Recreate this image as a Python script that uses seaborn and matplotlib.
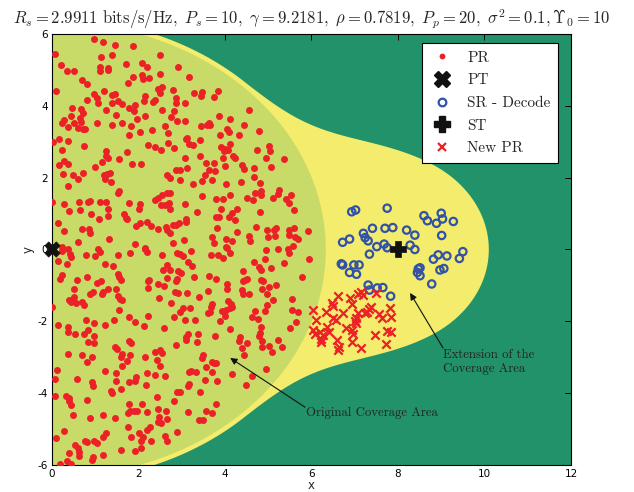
import numpy as np
import pandas as pd
import matplotlib
matplotlib.use("Agg")
import matplotlib.pyplot as plt
import seaborn as sns
from matplotlib.lines import Line2D

sns.set_style("white")
plt.rcParams['font.family'] = ['DejaVu Sans']
plt.rcParams['mathtext.fontset'] = 'cm'
plt.rcParams['axes.unicode_minus'] = False

# ---------------- data ----------------
pr_points = [
(0.97,5.85),(1.17,5.77),(1.45,5.69),(1.88,5.66),(0.08,5.44),(1.13,5.35),(1.39,5.41),(2.50,5.42),(0.20,5.15),(1.11,5.09),(1.29,5.04),(1.12,4.97),(1.29,4.99),(1.71,5.16),(2.08,5.19),(2.20,5.07),(2.92,5.07),(0.35,4.96),(0.50,4.98),(2.49,4.89),(1.88,4.79),(2.08,4.86),(2.11,4.76),(2.25,4.77),(0.70,4.71),(0.81,4.61),(1.76,4.63),(0.10,4.42),(1.20,4.40),(0.96,4.33),(1.39,4.29),(1.46,4.32),(2.46,4.46),(2.55,4.52),(2.49,4.35),(2.79,4.44),(1.04,4.21),(1.06,4.09),(0.81,4.16),(1.39,4.09),(1.53,4.14),(1.61,4.04),(2.14,4.26),(2.12,4.14),(2.39,4.16),(2.34,4.10),(1.93,4.03),(1.79,3.95),(1.89,3.86),(2.87,4.23),(2.87,4.07),(0.46,3.94),(0.68,3.90),(1.24,3.89),(2.55,3.89),(2.82,3.86),(0.71,3.79),(0.28,3.61),(0.43,3.72),(0.65,3.65),(0.68,3.56),(1.49,3.74),(2.16,3.72),(1.96,3.64),(2.76,3.68),(2.88,3.59),(0.24,3.53),(0.36,3.41),(0.52,3.51),(1.04,3.51),(1.39,3.47),(1.63,3.51),(1.83,3.44),(0.59,3.39),(0.71,3.35),(0.77,3.36),(2.04,3.28),(2.32,3.32),(2.61,3.44),(2.69,3.25),(1.79,3.18),(0.17,3.09),(0.37,3.03),(0.03,2.99),(0.73,2.89),(2.21,2.90),(2.39,2.85),(2.51,2.78),(2.69,2.96),(2.81,2.82),(0.23,2.77),(1.24,2.75),(1.26,2.59),(1.29,2.54),(1.54,2.53),(1.74,2.72),(0.27,2.47),(0.36,2.39),(0.17,2.34),(1.15,2.43),(0.99,2.29),(1.84,2.39),(2.06,2.37),(0.26,2.10),(0.49,2.07),(0.71,2.12),(1.34,2.12),(1.27,2.10),(1.20,2.08),(1.23,1.96),(1.36,1.89),(0.61,1.95),(2.66,2.08),(2.73,1.98),(2.86,2.21),(2.97,2.20),(0.36,1.78),(1.55,1.62),(1.53,1.56),(2.45,1.43),(2.38,1.38),(2.55,1.52),(2.66,1.57),(2.74,1.56),(0.00,1.31),(0.28,1.28),(0.63,1.33),(0.84,1.31),(0.89,1.35),(1.12,1.32),(1.26,1.31),(1.79,1.30),(2.03,1.27),(2.02,1.13),(2.51,1.24),(2.61,1.23),(2.71,1.30),(2.72,1.13),(0.40,1.07),(0.65,1.10),(1.29,1.13),(0.91,0.99),(1.29,0.92),(1.66,0.99),(1.71,0.89),(1.73,0.84),(1.09,0.86),(0.15,0.74),(2.04,0.75),(1.94,0.65),(2.20,0.76),(2.29,0.65),(2.46,0.56),(2.63,0.64),(2.65,0.53),(2.73,0.45),(2.79,0.69),(2.87,0.68),(2.93,0.75),(0.28,0.51),(0.69,0.56),(0.86,0.58),(0.87,0.45),(1.31,0.30),(0.60,0.20),(1.92,0.16),(2.14,0.05),(2.79,0.17),(0.23,0.06),
(3.17,4.79),(3.29,4.36),(3.48,4.39),(3.45,4.27),(3.85,4.40),(3.74,4.24),(3.07,4.09),(4.56,3.89),(3.86,3.72),(4.11,3.64),(3.08,3.59),(3.44,3.45),(3.62,3.51),(3.66,3.47),(3.58,3.48),(4.45,3.47),(4.05,3.35),(4.09,3.26),(3.88,3.20),(4.32,3.20),(4.78,3.29),(3.09,3.07),(3.12,3.11),(3.17,2.93),(3.27,2.91),(3.42,3.04),(3.91,2.85),(4.11,2.94),(4.01,2.79),(3.97,2.75),(4.08,2.77),(4.19,2.60),(4.23,2.55),(4.75,2.76),(5.01,2.89),(5.03,2.75),(3.95,2.54),(4.94,2.55),(5.37,2.53),(3.08,2.56),(3.43,2.61),(3.56,2.40),(3.75,2.42),(4.00,2.33),(4.40,2.35),(4.43,2.23),(4.68,2.27),(5.06,2.29),(3.12,2.26),(3.62,2.21),(3.77,2.18),(3.53,2.07),(4.68,2.02),(4.82,1.85),(5.25,1.67),(2.95,1.94),(3.26,1.83),(3.46,1.91),(3.71,1.93),(4.02,1.82),(4.37,1.88),(4.70,1.56),(4.84,1.62),(4.84,1.53),(5.22,1.54),(5.52,1.53),(5.42,1.40),(5.48,1.29),(5.60,1.10),(3.48,1.49),(3.79,1.41),(3.95,1.41),(4.12,1.51),(4.51,1.42),(4.64,1.38),(5.11,1.42),(3.08,1.27),(3.35,1.05),(3.91,1.13),(4.81,1.03),(4.17,1.01),(4.09,0.91),(4.28,1.12),(3.80,0.90),(3.86,0.90),(4.22,0.82),(3.10,0.86),(3.10,0.76),(3.81,0.59),(4.71,0.63),(4.97,0.55),(5.13,0.54),(5.19,0.60),(5.47,0.55),(5.60,0.60),(5.91,0.52),(4.28,0.49),(4.55,0.38),(4.58,0.24),(4.99,0.36),(5.15,0.37),(5.49,0.41),(5.62,0.35),(5.68,0.30),(3.71,0.36),(3.75,0.17),(4.03,0.29),(4.17,0.25),(3.06,0.26),(4.03,0.06),(5.58,0.11),
(0.24,-0.03),(0.36,0.00),(0.41,-0.13),(0.43,-0.22),(0.13,-0.31),(0.34,-0.39),(0.78,-0.16),(0.99,-0.17),(1.07,0.00),(1.12,-0.08),(1.53,-0.14),(1.81,-0.09),(2.14,0.00),(2.20,-0.08),(2.54,-0.16),(2.90,-0.09),(2.96,-0.13),(1.23,-0.39),(1.41,-0.47),(2.67,-0.42),(2.56,-0.58),(2.73,-0.57),(2.91,-0.61),(1.53,-0.67),(1.54,-0.77),(1.59,-0.86),(0.22,-0.70),(0.19,-0.82),(0.57,-0.86),(0.80,-0.76),(1.03,-0.93),(1.13,-0.89),(2.21,-0.89),(2.24,-0.86),(2.23,-1.08),(2.46,-0.95),(2.59,-1.03),(2.65,-0.79),(2.89,-0.82),(2.87,-0.89),(0.52,-1.11),(1.29,-1.10),(1.49,-1.09),(0.88,-1.23),(0.95,-1.18),(1.15,-1.24),(1.19,-1.19),(1.53,-1.30),(1.57,-1.37),(1.63,-1.40),(0.40,-1.40),(0.43,-1.47),(0.50,-1.33),(0.56,-1.50),(0.69,-1.46),(0.75,-1.54),(2.47,-1.35),(2.76,-1.49),(2.85,-1.19),(2.91,-1.21),(0.00,-1.60),(1.54,-1.69),(2.95,-1.73),(1.79,-1.88),(1.91,-2.02),(1.43,-1.95),(0.79,-1.96),(0.98,-2.04),(2.23,-1.84),(2.82,-1.87),(0.13,-2.11),(0.36,-2.15),(0.36,-2.30),(0.54,-2.34),(0.73,-2.34),(0.84,-2.25),(0.98,-2.40),(1.23,-2.11),(2.13,-2.13),(2.59,-2.18),(0.83,-2.58),(0.96,-2.61),(1.79,-2.54),(1.82,-2.60),(2.86,-2.67),(1.46,-2.72),(1.50,-2.76),(0.37,-2.90),(0.69,-2.95),(0.93,-2.98),(1.59,-3.00),(1.62,-2.91),(1.80,-2.94),(2.16,-2.98),(2.38,-2.86),(2.49,-2.79),(2.55,-2.88),(2.43,-3.07),(0.81,-3.14),(1.73,-3.11),(1.63,-3.24),(2.49,-3.25),(0.12,-3.35),(0.07,-3.60),(0.57,-3.61),(1.22,-3.39),(1.47,-3.45),(1.49,-3.65),(1.94,-3.55),(1.93,-3.66),(1.77,-3.70),(2.19,-3.44),(2.38,-3.49),(2.61,-3.53),(0.92,-3.70),(0.95,-3.79),(1.37,-3.93),(1.39,-3.99),(1.59,-3.88),(2.18,-3.78),(0.06,-4.08),(0.33,-4.09),(0.40,-4.14),(0.40,-4.21),(0.43,-4.34),(0.80,-4.20),(1.78,-4.31),(2.09,-4.29),(2.43,-4.12),(2.89,-3.97),(2.96,-3.97),(2.83,-4.21),(0.48,-4.60),(0.89,-4.69),(1.18,-4.62),(1.46,-4.69),(1.76,-4.56),(1.81,-4.51),(1.89,-4.50),(1.97,-4.49),(2.19,-4.53),(2.45,-4.44),(2.63,-4.49),(2.48,-4.65),(2.44,-4.79),(2.51,-4.83),(2.65,-4.73),(0.27,-5.06),(0.09,-5.25),(1.26,-5.12),(1.19,-5.22),(1.76,-4.94),(1.82,-5.21),(2.02,-5.10),(2.20,-5.02),(2.26,-4.94),(2.10,-5.23),(2.06,-5.34),(2.28,-5.32),(2.62,-5.18),(2.67,-5.32),(2.88,-5.08),(0.76,-5.32),(0.80,-5.37),(0.97,-5.32),(1.03,-5.39),(0.53,-5.45),(0.59,-5.53),(0.62,-5.64),(0.63,-5.76),(0.40,-5.67),(1.19,-5.73),(0.94,-5.78),(0.93,-5.85),(1.59,-5.58),(1.93,-5.60),(2.06,-5.53),(0.18,-5.97),(0.34,-5.90),(0.43,-5.96),
(3.21,-0.05),(3.03,-0.19),(3.68,-0.14),(3.85,-0.16),(3.96,-0.23),(4.11,-0.10),(4.04,0.04),(4.95,-0.02),(5.22,0.01),(5.47,-0.09),(5.45,0.00),(4.92,-0.26),(4.66,-0.35),(4.79,-0.49),(4.83,-0.56),(5.06,-0.52),(5.36,-0.38),(5.95,-0.26),(3.14,-0.35),(3.23,-0.47),(4.42,-0.60),(2.99,-0.65),(3.29,-0.77),(3.63,-0.75),(3.80,-0.82),(4.41,-0.89),(4.47,-0.85),(4.52,-0.81),(4.83,-0.85),(4.87,-0.89),(5.01,-1.05),(5.18,-0.99),(5.78,-0.76),(4.04,-0.96),(4.05,-1.09),(4.85,-1.09),(3.60,-1.15),(4.40,-1.14),(4.42,-1.23),(4.55,-1.23),(3.13,-1.21),(4.98,-1.23),(3.39,-1.32),(4.08,-1.44),(4.14,-1.51),(4.16,-1.59),(4.11,-1.63),(4.02,-1.68),(3.94,-1.72),(4.00,-1.84),(3.88,-1.98),(3.69,-1.51),(3.67,-1.60),(3.66,-1.75),(3.60,-1.78),(5.12,-1.40),(5.55,-1.37),(4.97,-1.55),(4.92,-1.72),(4.69,-1.72),(4.62,-1.89),(4.76,-1.94),(5.55,-1.68),(5.69,-1.74),(5.64,-2.03),(5.51,-2.19),(3.03,-1.63),(3.20,-1.63),(3.08,-1.96),(3.30,-1.95),(4.84,-2.16),(4.81,-2.33),(4.79,-2.41),(4.11,-2.20),(3.14,-2.34),(3.38,-2.34),(3.10,-2.45),(3.09,-2.53),(3.76,-2.40),(4.34,-2.43),(4.32,-2.56),(4.51,-2.59),(4.40,-2.74),(4.86,-2.55),(4.86,-2.72),(5.02,-2.68),(5.09,-2.85),(5.23,-2.52),(5.31,-2.72),(3.36,-2.58),(3.49,-2.93),(3.47,-3.02),(4.45,-2.95),(3.69,-3.14),(3.75,-3.16),(3.80,-3.17),(3.57,-3.26),(3.16,-3.41),(3.22,-3.37),(3.32,-3.41),(3.70,-3.41),(4.16,-3.48),(4.63,-3.52),(4.95,-3.33),(3.53,-3.63),(3.81,-3.65),(3.17,-3.75),(3.15,-3.81),(3.43,-3.98),(4.48,-3.78),(3.80,-4.29),(3.15,-4.53),(3.55,-4.49),(3.69,-4.55),(3.39,-4.75),(3.49,-4.75),
]

sr_points = [
(6.93,1.05),(7.02,1.10),(7.75,1.15),(8.60,0.94),(8.68,0.80),(9.00,1.01),(9.03,0.85),(8.89,0.73),(9.28,0.78),(7.41,0.59),(7.70,0.59),(7.88,0.61),(8.20,0.54),(8.39,0.40),(9.01,0.39),(7.20,0.45),(7.24,0.33),(7.31,0.24),(6.72,0.20),(6.88,0.29),(7.51,0.08),(7.68,0.15),(7.75,0.05),(8.28,0.12),(8.39,0.00),(7.34,-0.13),(9.50,-0.06),(9.42,-0.25),(9.13,-0.18),(8.93,-0.15),(8.82,-0.27),(6.69,-0.40),(6.72,-0.43),(6.98,-0.43),(7.10,-0.43),(6.88,-0.64),(7.04,-0.69),(8.47,-0.54),(8.51,-0.51),(8.45,-0.64),(8.51,-0.73),(8.97,-0.57),(9.06,-0.53),(8.78,-0.96),(7.31,-0.99),(7.34,-1.13),(7.52,-1.07),(7.65,-1.06),(7.83,-1.30),
]

new_pr_points = [
(6.62,-1.29),(6.88,-1.34),(7.08,-1.25),(7.14,-1.17),(7.20,-1.27),(7.49,-1.20),(6.47,-1.50),(6.50,-1.57),(6.93,-1.53),(7.37,-1.59),(7.34,-1.67),(7.29,-1.75),(6.04,-1.69),(6.34,-1.73),(6.74,-1.78),(7.08,-1.78),(7.03,-1.90),(7.24,-1.78),(7.57,-1.80),(7.82,-1.62),(7.85,-1.87),(7.62,-1.90),(6.10,-1.96),(6.49,-1.90),(6.57,-1.96),(7.01,-1.99),(7.03,-2.06),(6.35,-2.15),(6.80,-2.18),(6.93,-2.24),(6.03,-2.24),(6.08,-2.34),(6.20,-2.31),(6.27,-2.38),(6.41,-2.29),(6.21,-2.49),(6.60,-2.52),(6.64,-2.71),(6.97,-2.34),(7.47,-2.38),(7.74,-2.27),(7.85,-2.31),(7.72,-2.64),(7.14,-2.75),(6.62,-2.80),(6.93,-2.57),(6.23,-2.57),
]

pt_point = (0.0, 0.0)
st_point = (8.0, 0.0)

legend_labels = ["PR", "PT", "SR - Decode", "ST", "New PR"]
x_ticks = [0, 2, 4, 6, 8, 10, 12]
y_ticks = [-6, -4, -2, 0, 2, 4, 6]
title_text = (r"$R_s = 2.9911\ \mathrm{bits/s/Hz},\ P_s = 10,\ \gamma = 9.2181,\ "
              r"\rho = 0.7819,\ P_p = 20,\ \sigma^2 = 0.1,\Upsilon_0 = 10$")

# coverage-area geometry (original: disc around PT; extension: blend with ST disc)
orig_radius = 6.33
ext_radius_pt = 6.45
ext_center_st = (7.3, 0.0)
ext_radius_st = 2.8
ext_blend = 2.7

green = "#21926a"
yellow = "#f4ec6c"
lightgreen = "#c8da68"
red = "#ec2027"
blue = "#3252a8"

# ---------------- figure ----------------
fig = plt.figure(figsize=(6.34, 4.92), dpi=100)
ax = fig.add_axes([0.082, 0.0549, 0.8186, 0.876])
ax.set_facecolor(green)

gx, gy = np.meshgrid(np.linspace(0, 12, 700), np.linspace(-6, 6, 700))
d1 = np.hypot(gx, gy) - ext_radius_pt
d2 = np.hypot(gx - ext_center_st[0], gy - ext_center_st[1]) - ext_radius_st
h = np.clip(0.5 + 0.5 * (d2 - d1) / ext_blend, 0, 1)
f = d2 * (1 - h) + d1 * h - ext_blend * h * (1 - h)
ax.contourf(gx, gy, f, levels=[-100, 0], colors=[yellow], antialiased=True)
ax.contourf(gx, gy, np.hypot(gx, gy), levels=[0, orig_radius], colors=[lightgreen], antialiased=True)

pr = pd.DataFrame(pr_points, columns=["x", "y"])
sr = pd.DataFrame(sr_points, columns=["x", "y"])
npr = pd.DataFrame(new_pr_points, columns=["x", "y"])

sns.scatterplot(data=pr, x="x", y="y", ax=ax, color=red, s=25, linewidth=0, zorder=3)
sns.scatterplot(data=sr, x="x", y="y", ax=ax, marker="o", facecolors="none",
                edgecolor=blue, s=28, linewidth=1.6, zorder=3)
sns.scatterplot(data=npr, x="x", y="y", ax=ax, marker="x", color=red, s=36, linewidth=1.6, zorder=3)
sns.scatterplot(x=[pt_point[0]], y=[pt_point[1]], ax=ax, marker="X", color="#111111",
                edgecolor="#111111", s=120, linewidth=0.5, zorder=5, clip_on=False)
sns.scatterplot(x=[st_point[0]], y=[st_point[1]], ax=ax, marker="P", color="#111111",
                edgecolor="#111111", s=130, linewidth=0.5, zorder=5)

# annotations
ax.annotate("", xy=(4.12, -3.02), xytext=(5.85, -4.39),
            arrowprops=dict(arrowstyle="-|>", color="#111111", lw=0.8, mutation_scale=10,
                            shrinkA=0, shrinkB=0), zorder=6)
ax.text(5.87, -4.55, "Original Coverage Area", family="cmr10", fontsize=9.2,
        ha="left", va="center", color="#222222", zorder=6)
ax.annotate("", xy=(8.28, -1.21), xytext=(9.04, -2.74),
            arrowprops=dict(arrowstyle="-|>", color="#111111", lw=0.8, mutation_scale=10,
                            shrinkA=0, shrinkB=0), zorder=6)
ax.text(9.04, -3.12, "Extension of the\nCoverage Area", family="cmr10", fontsize=9.2,
        ha="left", va="center", color="#222222", linespacing=1.2, zorder=6)

ax.set_xlim(0, 12)
ax.set_ylim(-6, 6)
ax.set_xticks(x_ticks)
ax.set_yticks(y_ticks)
ax.tick_params(direction="in", length=4, width=0.7, top=True, right=True,
               labelsize=7.5, colors="black", pad=3)
for sp in ax.spines.values():
    sp.set_color("black")
    sp.set_linewidth(0.8)
ax.set_xlabel("x", fontsize=8.5, labelpad=0)
ax.set_ylabel("y", fontsize=8.5, labelpad=2)
ax.set_title(title_text, fontsize=12, pad=7)

handles = [
    Line2D([], [], linestyle="none", marker="o", color=red, markersize=4.2, markeredgewidth=0),
    Line2D([], [], linestyle="none", marker="X", color="#111111", markersize=11),
    Line2D([], [], linestyle="none", marker="o", markerfacecolor="none", markeredgecolor=blue,
           markersize=5.5, markeredgewidth=1.6),
    Line2D([], [], linestyle="none", marker="P", color="#111111", markersize=12),
    Line2D([], [], linestyle="none", marker="x", color=red, markersize=6, markeredgewidth=1.6),
]
leg = ax.legend(handles, legend_labels, loc="upper right", bbox_to_anchor=(0.975, 0.978),
                prop={"family": "cmr10", "size": 11}, frameon=True, fancybox=False,
                framealpha=1, edgecolor="black", labelspacing=0.58, handlelength=1.6,
                handletextpad=0.85, borderpad=0.5, borderaxespad=0)
leg.get_frame().set_linewidth(0.8)
leg.set_zorder(10)

fig.savefig("out.png", dpi=100)
